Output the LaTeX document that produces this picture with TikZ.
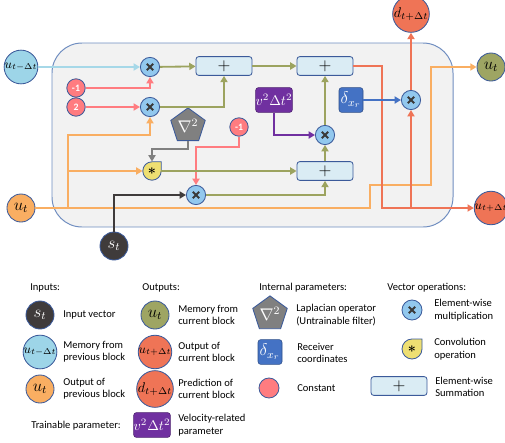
\documentclass[tikz,border=0pt]{standalone}
\usepackage{amsmath}
\usepackage{fontspec}
\setmainfont{Carlito}
\usetikzlibrary{arrows.meta}
\usetikzlibrary{shapes.geometric}

\definecolor{boxfill}{HTML}{F2F2F2}
\definecolor{boxline}{HTML}{6F8DC0}
\definecolor{edge}{HTML}{3B5A9A}
\definecolor{multfill}{HTML}{92C8EE}
\definecolor{sumfill}{HTML}{DAECF4}
\definecolor{constfill}{HTML}{FF7C80}
\definecolor{olive}{HTML}{9CA35F}
\definecolor{orangeline}{HTML}{F9AE62}
\definecolor{redline}{HTML}{EF7456}
\definecolor{blueline}{HTML}{A6D8E8}
\definecolor{memin}{HTML}{9DD5E8}
\definecolor{purp}{HTML}{7030A0}
\definecolor{deltablue}{HTML}{4472C4}
\definecolor{nablagray}{HTML}{808080}
\definecolor{sdark}{HTML}{3F3B3B}
\definecolor{memout}{HTML}{9EA563}
\definecolor{convfill}{HTML}{EEDF72}
\definecolor{crossgray}{HTML}{3A3A3A}

\tikzset{
  flowarrow/.style={line width=1.3pt, -{Triangle[length=4.5pt,width=5pt]}},
  io/.style={circle, draw=edge, line width=0.6pt, minimum size=0.7cm, inner sep=0pt},
  mult/.style={circle, draw=edge, fill=multfill, line width=0.6pt,
    minimum size=0.48cm, inner sep=0pt,
    path picture={\draw[line width=1.3pt, crossgray]
      ([shift={(-0.08cm,-0.08cm)}]path picture bounding box.center) --
      ([shift={(0.08cm,0.08cm)}]path picture bounding box.center)
      ([shift={(-0.08cm,0.08cm)}]path picture bounding box.center) --
      ([shift={(0.08cm,-0.08cm)}]path picture bounding box.center);}},
  constnode/.style={circle, draw=edge, fill=constfill, line width=0.6pt,
    minimum size=0.46cm, inner sep=0pt, text=white, font=\bfseries\scriptsize},
  sumbox/.style={draw=edge, fill=sumfill, line width=0.6pt, rounded corners=2pt,
    minimum width=1.4cm, minimum height=0.47cm, inner sep=0pt, font=\large},
  param/.style={draw=purp!70!black, fill=purp, rounded corners=2pt,
    minimum width=0.88cm, minimum height=0.62cm, inner sep=0pt, text=white},
  receiver/.style={draw=deltablue!70!black, fill=deltablue, rounded corners=2pt,
    minimum width=0.6cm, minimum height=0.62cm, inner sep=0pt, text=white, font=\large},
  laplace/.style={regular polygon, regular polygon sides=5, draw=edge, line width=0.6pt,
    fill=nablagray, minimum size=0.76cm, inner sep=0pt, text=white, font=\large},
  legtext/.style={anchor=west, align=left, inner sep=0pt,
    font=\fontsize{7.5}{8.8}\selectfont},
}

% convolution drop: name, position, radius
\newcommand{\convdrop}[3]{%
  \node[circle, minimum size=2*#3, inner sep=0pt] (#1) at (#2) {};
  \draw[draw=edge, fill=convfill, line width=0.6pt]
    ([xshift=#3]#1.center) arc[start angle=0, end angle=-270, radius=#3]
    -- ([shift={(#3,#3)}]#1.center) -- cycle;
  \node at (#1) {$\boldsymbol{\ast}$};
}

\begin{document}
\begin{tikzpicture}[x=0.025cm, y=-0.025cm]
\useasboundingbox (0,0) rectangle (505,442);

% block
\draw[boxline, fill=boxfill, line width=0.7pt, rounded corners=0.75cm]
    (52,43) rectangle (453,227);

% inputs and outputs
\node[io, fill=memin, font=\small] (uprev) at (21,67) {$u_{t-\Delta t}$};
\node[io, fill=orangeline, font=\large] (ucur) at (21,208) {$u_t$};
\node[io, fill=sdark, text=white, font=\large] (st) at (114,246) {$s_t$};
\node[io, fill=redline] (dout) at (411,14) {$d_{t+\Delta t}$};
\node[io, fill=memout, font=\large] (uout) at (491,67) {$u_t$};
\node[io, fill=redline, font=\small] (unext) at (491,208) {$u_{t+\Delta t}$};

% constants and parameters
\node[constnode] (cA) at (76,88) {-1};
\node[constnode] (cB) at (76,107) {2};
\node[constnode] (cC) at (239,127) {-1};
\node[laplace] (nab) at (188,126) {$\nabla^2$};
\node[param] (v2) at (274,100) {$v^2\Delta t^2$};
\node[receiver] (dl) at (351,100) {$\delta_{x_r}$};

% operations
\node[mult] (m1) at (150,67) {};
\node[mult] (m2) at (150,107) {};
\node[mult] (m3) at (325,135) {};
\node[mult] (m4) at (196,195) {};
\node[mult] (mr) at (411,100) {};
\node[sumbox] (s1) at (224,66) {$+$};
\node[sumbox] (s2) at (325,66) {$+$};
\node[sumbox] (s3) at (325,171) {$+$};
\convdrop{conv}{152,171}{0.23cm}

% memory path
\draw[flowarrow, blueline] (uprev) -- (m1);
\draw[flowarrow, constfill] (cA) -| (m1);
\draw[flowarrow, constfill] (cB) -- (m2);
\draw[flowarrow, olive] (m1) -- (s1);
\draw[flowarrow, olive] (m2) -| (s1);
\draw[flowarrow, olive] (s1) -- (s2);

% current field
\coordinate (fork) at (68,208);
\coordinate (forkconv) at (68,171);
\draw[flowarrow, orangeline] (ucur) -- (370,208) -- (370,185) -- (431,185) |- (uout);
\draw[flowarrow, orangeline] (fork) -- (68,135) -| (m2);
\draw[flowarrow, orangeline] (forkconv) -- (conv);
\draw[flowarrow, nablagray] (nab) -- (188,149) -| (conv);
\draw[flowarrow, constfill] (cC) -- (239,147) -| (m4);
\draw[flowarrow, sdark] (st) |- (m4);
\draw[flowarrow, olive] (conv) -- (s3);
\draw[flowarrow, olive] (m4) -| (s3);
\draw[flowarrow, olive] (s3) -- (m3);
\draw[flowarrow, purp] (v2) |- (m3);
\draw[flowarrow, olive] (m3) -- (s2);

% outputs
\coordinate (turn) at (382,208);
\draw[flowarrow, redline] (s2) -| (turn) -- (unext);
\draw[flowarrow, redline] (mr |- turn) -- (mr);
\draw[flowarrow, deltablue] (dl) -- (mr);
\draw[flowarrow, redline] (mr) -- (dout);

% legend: inputs
\node[legtext] (hin) at (30,288) {Inputs:};
\node[io, fill=sdark, text=white, font=\large] (lst) at (40,315) {$s_t$};
\node[legtext] (tst) at (63,315) {Input vector};
\node[io, fill=memin, font=\small] (lprev) at (40,352) {$u_{t-\Delta t}$};
\node[legtext] (tprev) at (63,352) {Memory from\\previous block};
\node[io, fill=orangeline, font=\large] (lcur) at (40,389) {$u_t$};
\node[legtext] (tcur) at (63,389) {Output of\\previous block};
\node[legtext] (htrain) at (31,426) {Trainable parameter:};

% legend: outputs
\node[legtext] (hout) at (142,288) {Outputs:};
\node[io, fill=memout, font=\large] (lout) at (155,315) {$u_t$};
\node[legtext] (tout) at (178,315) {Memory from\\current block};
\node[io, fill=redline, font=\small] (lnext) at (155,352) {$u_{t+\Delta t}$};
\node[legtext] (tnext) at (178,352) {Output of\\current block};
\node[io, fill=redline] (ld) at (155,389) {$d_{t+\Delta t}$};
\node[legtext] (td) at (178,389) {Prediction of\\current block};
\node[param] (lv2) at (152,425) {$v^2\Delta t^2$};
\node[legtext] (tv2) at (178,425) {Velocity-related\\parameter};

% legend: internal parameters
\node[legtext] (hint) at (259,288) {Internal parameters:};
\node[laplace, minimum size=0.82cm] (lnab) at (270,314) {$\nabla^2$};
\node[legtext] (tnab) at (296,315) {Laplacian operator\\(Untrainable filter)};
\node[receiver] (ldl) at (270,352) {$\delta_{x_r}$};
\node[legtext] (tdl) at (297,353) {Receiver\\coordinates};
\node[constnode, minimum size=0.5cm] (lc) at (269,388) {};
\node[legtext] (tc) at (297,388) {Constant};

% legend: vector operations
\node[legtext] (hops) at (387,288) {Vector operations:};
\node[mult, minimum size=0.5cm] (lm) at (412,310) {};
\node[legtext] (tm) at (434,310) {Element-wise\\multiplication};
\convdrop{lconv}{412,349}{0.25cm}
\node[legtext] (tconv) at (434,349) {Convolution\\operation};
\node[sumbox] (ls) at (399,386) {$+$};
\node[legtext] (ts) at (435,387) {Element-wise\\Summation};

\end{tikzpicture}
\end{document}
